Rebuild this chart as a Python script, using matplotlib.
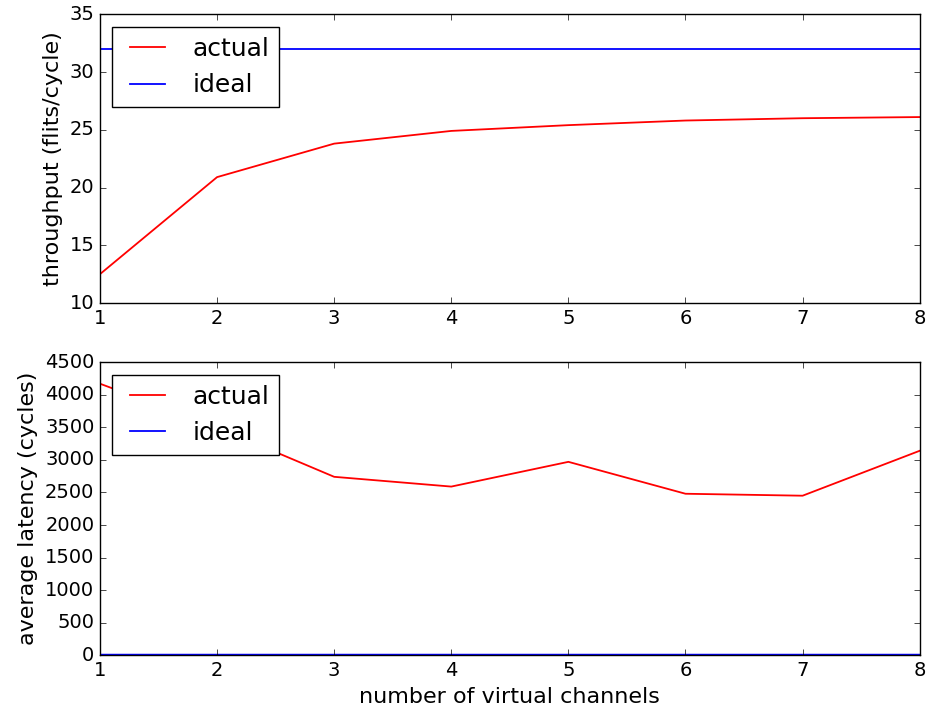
import numpy as np
import matplotlib
matplotlib.use("Agg")
import matplotlib.pyplot as plt

plt.style.use("classic")
plt.rcParams["xtick.labelsize"] = 14
plt.rcParams["ytick.labelsize"] = 14
plt.rcParams["axes.labelsize"] = 16
plt.rcParams["legend.fontsize"] = 18

# number of virtual channels
vcs = [1, 2, 3, 4, 5, 6, 7, 8]

# throughput (flits/cycle)
tput_actual = [12.5, 20.9, 23.8, 24.9, 25.4, 25.8, 26.0, 26.1]
tput_ideal = [32, 32, 32, 32, 32, 32, 32, 32]

# average latency (cycles)
lat_actual = [4170, 3500, 2740, 2590, 2970, 2480, 2450, 3140]
lat_ideal = [0, 0, 0, 0, 0, 0, 0, 0]

fig = plt.figure(figsize=(9.29, 7.13), dpi=100, facecolor="white")

ax1 = fig.add_axes([0.1076, 0.575, 0.8824, 0.405])
ax1.plot(vcs, tput_actual, color="red", lw=1.3, label="actual")
ax1.plot(vcs, tput_ideal, color="blue", lw=1.3, label="ideal")
ax1.set_ylim(10, 35)
ax1.set_xlim(1, 8)
ax1.set_ylabel("throughput (flits/cycle)")
ax1.legend(loc="upper left")

ax2 = fig.add_axes([0.1076, 0.081, 0.8824, 0.411])
ax2.plot(vcs, lat_actual, color="red", lw=1.3, label="actual")
ax2.plot(vcs, lat_ideal, color="blue", lw=2.5, label="ideal")
ax2.set_ylim(0, 4500)
ax2.set_xlim(1, 8)
ax2.set_yticks(np.arange(0, 4501, 500))
ax2.set_ylabel("average latency (cycles)")
ax2.set_xlabel("number of virtual channels")
leg = ax2.legend(loc="upper left")
leg.get_lines()[1].set_linewidth(1.3)

fig.savefig("out.png", dpi=100, facecolor="white")
